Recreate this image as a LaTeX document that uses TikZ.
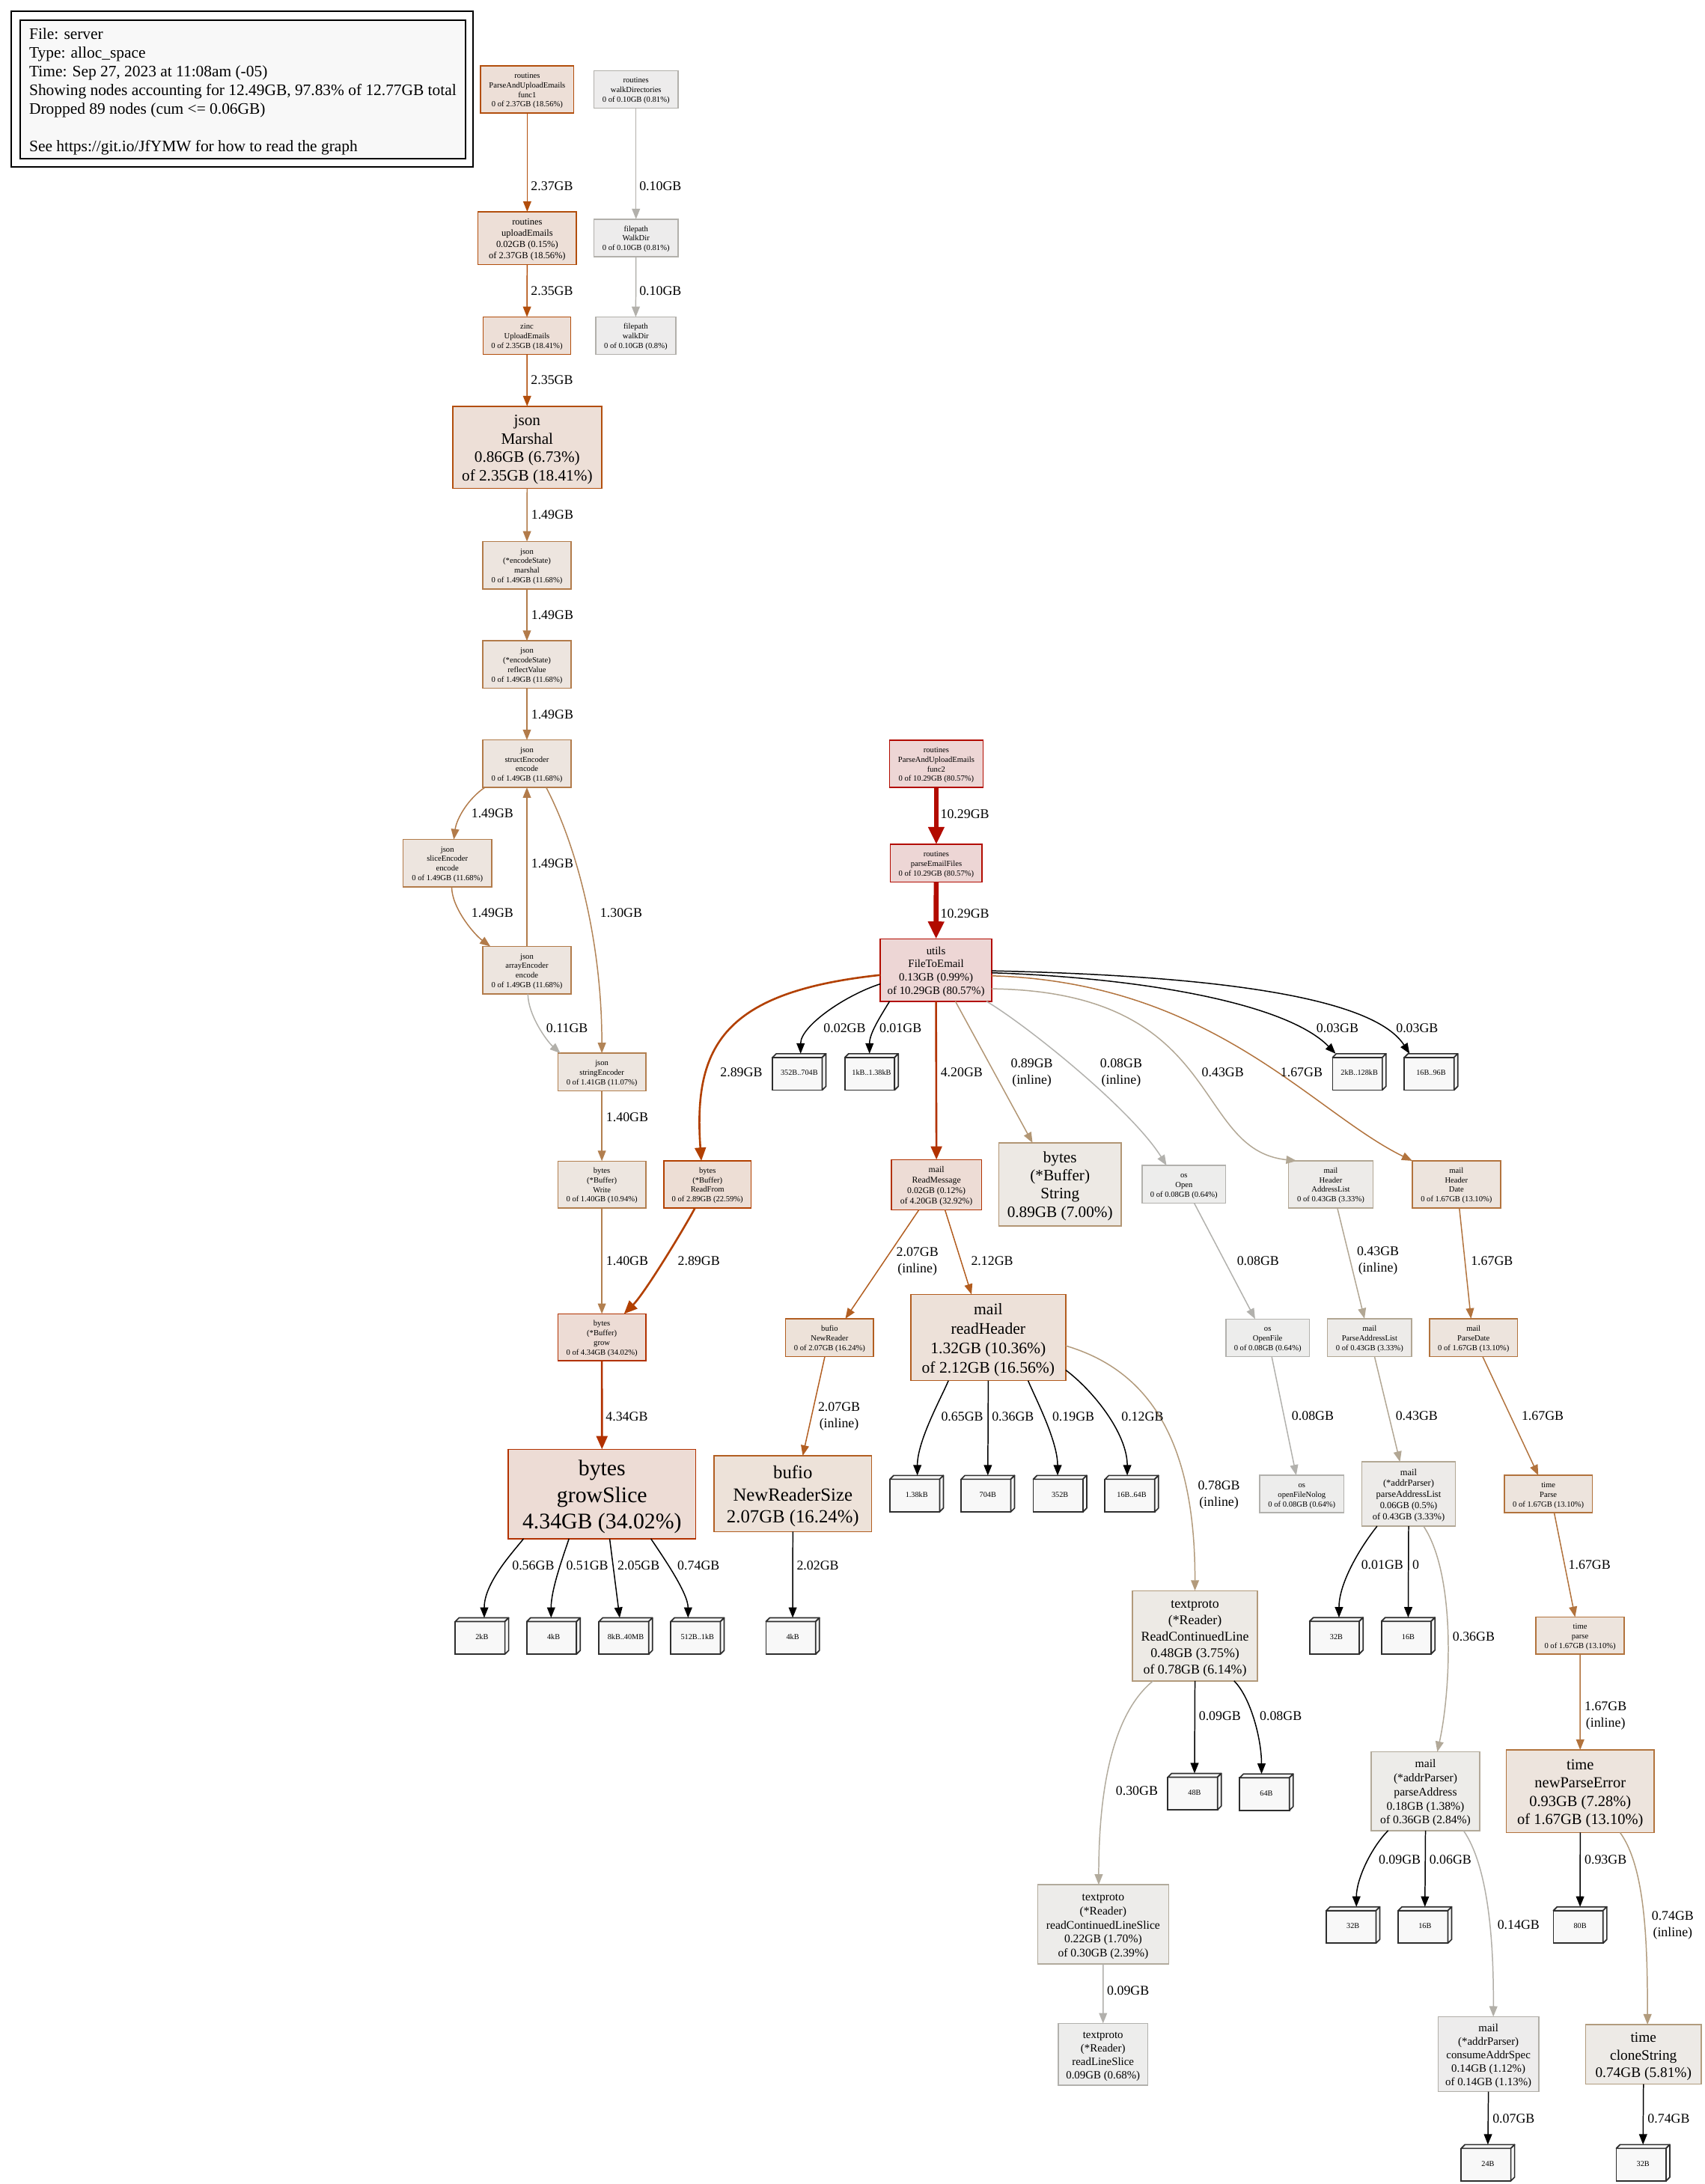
\documentclass[tikz,border=0pt]{standalone}
\usepackage{fontspec}
\setmainfont{Liberation Serif}
\usetikzlibrary{arrows.meta}

% node palette: outline (fg) and fill (bg), graded by cumulative share
\definecolor{c80fg}{HTML}{B20B00}\definecolor{c80bg}{HTML}{EDD6D5}
\definecolor{c34fg}{HTML}{B23100}\definecolor{c34bg}{HTML}{EDDCD5}
\definecolor{c33fg}{HTML}{B23200}\definecolor{c33bg}{HTML}{EDDCD5}
\definecolor{c22fg}{HTML}{B24000}\definecolor{c22bg}{HTML}{EDDED5}
\definecolor{c18fg}{HTML}{B24E0C}\definecolor{c18bg}{HTML}{EDDFD7}
\definecolor{c16fg}{HTML}{B25E21}\definecolor{c16bg}{HTML}{EDE2D9}
\definecolor{c16hfg}{HTML}{B25C1E}\definecolor{c16hbg}{HTML}{EDE1D9}
\definecolor{c13fg}{HTML}{B2733D}\definecolor{c13bg}{HTML}{EDE4DD}
\definecolor{c11fg}{HTML}{B27B4A}\definecolor{c11bg}{HTML}{EDE5DF}
\definecolor{c110fg}{HTML}{B27F4F}\definecolor{c110bg}{HTML}{EDE6E0}
\definecolor{c07fg}{HTML}{B29674}\definecolor{c07bg}{HTML}{EDE9E4}
\definecolor{c06fg}{HTML}{B29A7B}\definecolor{c06bg}{HTML}{EDEAE5}
\definecolor{c058fg}{HTML}{B29C7E}\definecolor{c058bg}{HTML}{EDEAE6}
\definecolor{c03fg}{HTML}{B2A794}\definecolor{c03bg}{HTML}{EDEBE9}
\definecolor{c028fg}{HTML}{B2A999}\definecolor{c028bg}{HTML}{EDECE9}
\definecolor{c024fg}{HTML}{B2AB9D}\definecolor{c024bg}{HTML}{EDECEA}
\definecolor{c011fg}{HTML}{B2AFA8}\definecolor{c011bg}{HTML}{EDECEC}
\definecolor{c008fg}{HTML}{B2B0AB}\definecolor{c008bg}{HTML}{EDECEC}
\definecolor{c006fg}{HTML}{B2B1AD}\definecolor{c006bg}{HTML}{EDEDEC}
% edge-only shades
\definecolor{e130}{HTML}{B28457}
\definecolor{e011}{HTML}{B2B0AA}
\definecolor{e009}{HTML}{B2B0AC}
% leaf (allocation size) boxes
\definecolor{leaffill}{HTML}{F8F8F8}
\definecolor{leafline}{HTML}{2E2E2E}
\definecolor{legendfill}{HTML}{F8F8F8}

% line strut: full line height above the baseline minus the descent, descent below
\newcommand{\gvs}{\vrule width 0pt height \dimexpr\baselineskip-0.217em\relax depth 0.217em\relax}

\tikzset{
  fn/.style={rectangle, draw, line width=0.8pt, inner sep=0pt, outer sep=0pt, align=center},
  wh/.style 2 args={minimum width=#1pt, minimum height=#2pt},
  fsz/.style 2 args={font=\fontsize{#1}{#2}\selectfont},
  sml/.style={fsz={5.7}{6.9}},
  pal/.style={draw=#1fg, fill=#1bg},
  leaf/.style={rectangle, draw=leafline, fill=leaffill, line width=0.9pt, inner sep=0pt,
    outer sep=0pt, minimum width=35.7pt, minimum height=23.4pt, font=\fontsize{5.5}{6.6}\selectfont},
  leafface/.style={draw=leafline, fill=leaffill, line width=0.9pt, line join=round},
  lbl/.style={font=\fontsize{9.6}{11.7}\selectfont, align=center, inner sep=0pt},
  ed/.style={draw=#1, line width=0.8pt, -{Triangle[length=7.5pt,width=5.8pt]}},
  edm/.style={draw=#1, line width=1.4pt, -{Triangle[length=9.5pt,width=8pt]}},
  edh/.style={draw=#1, line width=3.6pt, -{Triangle[length=12.5pt,width=11pt]}},
}

% box3d leaf: front face node, top and side faces, and a coordinate on the back top edge
\newcommand{\leafnode}[4]{%
  \node[leaf] (#1) at (#2,#3) {\kern2.7pt\raisebox{1.35pt}{#4}};
  \path[leafface] (#1.north west) -- ([xshift=2.7pt,yshift=2.7pt]#1.north west)
    -- ([xshift=2.7pt,yshift=2.7pt]#1.north east) -- (#1.north east) -- cycle;
  \path[leafface] (#1.north east) -- ([xshift=2.7pt,yshift=2.7pt]#1.north east)
    -- ([xshift=2.7pt,yshift=2.7pt]#1.south east) -- (#1.south east) -- cycle;
  \coordinate (#1-t) at ([xshift=1.35pt,yshift=2.7pt]#1.north);
}

\begin{document}
\begin{tikzpicture}[x=1pt, y=-1pt]
\fill[white] (0,0) rectangle (1224,1568);
\useasboundingbox (0,0) rectangle (1224,1568);

% ---------- legend ----------
\node[draw=black, line width=1.1pt, fill=white, minimum width=331.8pt, minimum height=111.9pt,
  inner sep=0pt] (legendbox) at (173.9,64.05) {};
\node[draw=black, line width=1pt, fill=legendfill, minimum width=319.9pt, minimum height=99.7pt,
  inner sep=0pt, align=left, font=\fontsize{11.5}{13.4}\selectfont] (legend) at (174.35,64.15)
  {\gvs File: server\\Type: alloc\_space\\Time: Sep 27, 2023 at 11:08am (-05)\\
   Showing nodes accounting for 12.49GB, 97.83\% of 12.77GB total\\
   Dropped 89 nodes (cum <= 0.06GB)\\[13.4pt]
   See https://git.io/JfYMW for how to read the graph\gvs};

% ---------- upload / json branch ----------
\node[fn, pal=c18, wh={66.9}{33.9}, sml] (f1) at (378.5,64.2) {\gvs routines\\ParseAndUploadEmails\\func1\\0 of 2.37GB (18.56\%)\gvs};
\node[fn, pal=c008, wh={60.5}{26.9}, sml] (wdirs) at (456.6,64.3) {\gvs routines\\walkDirectories\\0 of 0.10GB (0.81\%)\gvs};
\node[fn, pal=c18, wh={70.7}{37.9}, fsz={6.7}{8.06}] (upl) at (378.5,171) {\gvs routines\\uploadEmails\\0.02GB (0.15\%)\\of 2.37GB (18.56\%)\gvs};
\node[fn, pal=c008, wh={60.5}{26.9}, sml] (wdir1) at (456.6,170.8) {\gvs filepath\\WalkDir\\0 of 0.10GB (0.81\%)\gvs};
\node[fn, pal=c18, wh={62.8}{26.8}, sml] (zinc) at (378.3,241) {\gvs zinc\\UploadEmails\\0 of 2.35GB (18.41\%)\gvs};
\node[fn, pal=c008, wh={57.6}{26.8}, sml] (wdir2) at (456.4,241) {\gvs filepath\\walkDir\\0 of 0.10GB (0.8\%)\gvs};
\node[fn, pal=c18, wh={107}{59}, fsz={11.4}{13.2}] (marshal) at (378.5,321.2) {\gvs json\\Marshal\\0.86GB (6.73\%)\\of 2.35GB (18.41\%)\gvs};
\node[fn, pal=c11, wh={63.3}{34}, sml] (encm) at (378.3,405.8) {\gvs json\\(*encodeState)\\marshal\\0 of 1.49GB (11.68\%)\gvs};
\node[fn, pal=c11, wh={63.3}{34}, sml] (encr) at (378.3,477.1) {\gvs json\\(*encodeState)\\reflectValue\\0 of 1.49GB (11.68\%)\gvs};
\node[fn, pal=c11, wh={63.3}{34}, sml] (structe) at (378.3,548.3) {\gvs json\\structEncoder\\encode\\0 of 1.49GB (11.68\%)\gvs};
\node[fn, pal=c11, wh={63.6}{34}, sml] (slicee) at (321.2,619.7) {\gvs json\\sliceEncoder\\encode\\0 of 1.49GB (11.68\%)\gvs};
\node[fn, pal=c11, wh={63.3}{34}, sml] (arraye) at (378.3,696.5) {\gvs json\\arrayEncoder\\encode\\0 of 1.49GB (11.68\%)\gvs};
\node[fn, pal=c110, wh={63.2}{26.9}, sml] (strenc) at (432.1,769.6) {\gvs json\\stringEncoder\\0 of 1.41GB (11.07\%)\gvs};
\node[fn, pal=c110, wh={63.2}{33.6}, sml] (bwrite) at (432.1,850.4) {\gvs bytes\\(*Buffer)\\Write\\0 of 1.40GB (10.94\%)\gvs};
\node[fn, pal=c22, wh={62.8}{33.8}, sml] (breadfrom) at (507.9,850.3) {\gvs bytes\\(*Buffer)\\ReadFrom\\0 of 2.89GB (22.59\%)\gvs};
\node[fn, pal=c34, wh={63.2}{33.6}, sml] (bgrow) at (432.1,960.1) {\gvs bytes\\(*Buffer)\\grow\\0 of 4.34GB (34.02\%)\gvs};
\node[fn, pal=c34, wh={134.7}{64.2}, fsz={16}{19.1}] (growslice) at (432.2,1072.6) {\gvs bytes\\growSlice\\4.34GB (34.02\%)\gvs};

% ---------- email parsing branch ----------
\node[fn, pal=c80, wh={67.2}{33.8}, sml] (func2) at (672.2,548.4) {\gvs routines\\ParseAndUploadEmails\\func2\\0 of 10.29GB (80.57\%)\gvs};
\node[fn, pal=c80, wh={65.8}{27}, sml] (pef) at (672.2,619.7) {\gvs routines\\parseEmailFiles\\0 of 10.29GB (80.57\%)\gvs};
\node[fn, pal=c80, wh={79.9}{44.8}, fsz={8}{9.6}] (f2e) at (672,696.5) {\gvs utils\\FileToEmail\\0.13GB (0.99\%)\\of 10.29GB (80.57\%)\gvs};
\node[fn, pal=c33, wh={64.8}{36}, fsz={6.3}{7.6}] (readmsg) at (672.3,850.5) {\gvs mail\\ReadMessage\\0.02GB (0.12\%)\\of 4.20GB (32.92\%)\gvs};
\node[fn, pal=c07, wh={87.9}{59.6}, fsz={11.4}{13}] (bstring) at (761,850.3) {\gvs bytes\\(*Buffer)\\String\\0.89GB (7.00\%)\gvs};
\node[fn, pal=c006, wh={60}{27.1}, sml] (osopen) at (850,850.3) {\gvs os\\Open\\0 of 0.08GB (0.64\%)\gvs};
\node[fn, pal=c03, wh={60.7}{33.8}, sml] (addrlist) at (955.4,850.3) {\gvs mail\\Header\\AddressList\\0 of 0.43GB (3.33\%)\gvs};
\node[fn, pal=c13, wh={63.4}{33.8}, sml] (hdate) at (1045.6,850.3) {\gvs mail\\Header\\Date\\0 of 1.67GB (13.10\%)\gvs};
\node[fn, pal=c16, wh={63.2}{27.1}, sml] (newreader) at (595.6,960.3) {\gvs bufio\\NewReader\\0 of 2.07GB (16.24\%)\gvs};
\node[fn, pal=c16h, wh={111.3}{61.9}, fsz={11.6}{13.9}] (readheader) at (709.5,960.3) {\gvs mail\\readHeader\\1.32GB (10.36\%)\\of 2.12GB (16.56\%)\gvs};
\node[fn, pal=c006, wh={60.1}{26.9}, sml] (openfile) at (910.1,960.4) {\gvs os\\OpenFile\\0 of 0.08GB (0.64\%)\gvs};
\node[fn, pal=c03, wh={60.4}{27.1}, sml] (parseal) at (983.3,960.3) {\gvs mail\\ParseAddressList\\0 of 0.43GB (3.33\%)\gvs};
\node[fn, pal=c13, wh={63.1}{27.1}, sml] (parsedate) at (1057.9,960.3) {\gvs mail\\ParseDate\\0 of 1.67GB (13.10\%)\gvs};
\node[fn, pal=c16, wh={113.3}{54.5}, fsz={13.3}{15.9}] (nrsize) at (569.2,1072.4) {\gvs bufio\\NewReaderSize\\2.07GB (16.24\%)\gvs};
\node[fn, pal=c006, wh={60.5}{26.8}, sml] (ofnolog) at (934.6,1072.6) {\gvs os\\openFileNolog\\0 of 0.08GB (0.64\%)\gvs};
\node[fn, pal=c03, wh={67}{46.2}, fsz={6.7}{8}] (apal) at (1011.3,1072.6) {\gvs mail\\(*addrParser)\\parseAddressList\\0.06GB (0.5\%)\\of 0.43GB (3.33\%)\gvs};
\node[fn, pal=c13, wh={63.2}{26.8}, sml] (tpub) at (1111.6,1072.6) {\gvs time\\Parse\\0 of 1.67GB (13.10\%)\gvs};
\node[fn, pal=c06, wh={89.8}{64.8}, fsz={9.6}{11.8}] (rcl) at (857.9,1174.4) {\gvs textproto\\(*Reader)\\ReadContinuedLine\\0.48GB (3.75\%)\\of 0.78GB (6.14\%)\gvs};
\node[fn, pal=c13, wh={63.5}{26.5}, sml] (tpriv) at (1134.4,1174.2) {\gvs time\\parse\\0 of 1.67GB (13.10\%)\gvs};
\node[fn, pal=c028, wh={77.8}{56.5}, fsz={8.4}{10.1}] (paddr) at (1023.4,1286) {\gvs mail\\(*addrParser)\\parseAddress\\0.18GB (1.38\%)\\of 0.36GB (2.84\%)\gvs};
\node[fn, pal=c13, wh={106.3}{59.3}, fsz={11}{13.2}] (npe) at (1134.5,1286) {\gvs time\\newParseError\\0.93GB (7.28\%)\\of 1.67GB (13.10\%)\gvs};
\node[fn, pal=c024, wh={94}{56.9}, fsz={8.4}{10.1}] (rcls) at (792,1381.6) {\gvs textproto\\(*Reader)\\readContinuedLineSlice\\0.22GB (1.70\%)\\of 0.30GB (2.39\%)\gvs};
\node[fn, pal=c006, wh={64}{44.4}, fsz={8}{9.6}] (rls) at (791.9,1474.9) {\gvs textproto\\(*Reader)\\readLineSlice\\0.09GB (0.68\%)\gvs};
\node[fn, pal=c011, wh={72.3}{53.9}, fsz={8}{9.6}] (cas) at (1068.6,1474.8) {\gvs mail\\(*addrParser)\\consumeAddrSpec\\0.14GB (1.12\%)\\of 0.14GB (1.13\%)\gvs};
\node[fn, pal=c058, wh={83.2}{42.8}, fsz={10.4}{12.5}] (clone) at (1179.9,1474.9) {\gvs time\\cloneString\\0.74GB (5.81\%)\gvs};

% ---------- allocation size leaves ----------
\leafnode{L1}{572.45}{770.9}{352B..704B}
\leafnode{L2}{624.4}{770.9}{1kB..1.38kB}
\leafnode{L3}{974.55}{770.9}{2kB..128kB}
\leafnode{L4}{1026.05}{770.9}{16B..96B}
\leafnode{L5}{656.75}{1073.7}{1.38kB}
\leafnode{L6}{707.85}{1073.7}{704B}
\leafnode{L7}{759.65}{1073.7}{352B}
\leafnode{L8}{811.15}{1073.7}{16B..64B}
\leafnode{L9}{344.65}{1175.9}{2kB}
\leafnode{L10}{396.05}{1175.9}{4kB}
\leafnode{L11}{447.85}{1175.9}{8kB..40MB}
\leafnode{L12}{499.35}{1175.9}{512B..1kB}
\leafnode{L13}{567.75}{1175.9}{4kB}
\leafnode{L14}{958.05}{1175.7}{32B}
\leafnode{L15}{1009.65}{1175.7}{16B}
\leafnode{L16}{856.25}{1287.6}{48B}
\leafnode{L17}{907.85}{1288}{64B}
\leafnode{L18}{970.05}{1383.4}{32B}
\leafnode{L19}{1021.65}{1383.4}{16B}
\leafnode{L20}{1133.05}{1383.4}{80B}
\leafnode{L21}{1066.85}{1554.1}{24B}
\leafnode{L22}{1178.25}{1554.1}{32B}

% ---------- edges: upload / json branch ----------
\draw[ed=c18fg] (f1) -- (upl);
\draw[ed=c008fg] (wdirs) -- (wdir1);
\draw[ed=c18fg] (upl) -- (zinc);
\draw[ed=c008fg] (wdir1) -- (wdir2);
\draw[ed=c18fg] (zinc) -- (marshal);
\draw[ed=c11fg] (marshal) -- (encm);
\draw[ed=c11fg] (encm) -- (encr);
\draw[ed=c11fg] (encr) -- (structe);
\draw[ed=c11fg] ([xshift=1.5pt]structe.south west) .. controls +(-12,8) and +(2,-15) .. ([xshift=4.6pt]slicee.north);
\draw[ed=c11fg] (arraye) -- (structe);
\draw[ed=c11fg] ([xshift=3.1pt]slicee.south) .. controls +(0,15) and +(-12,-9) .. ([xshift=5.4pt]arraye.north west);
\draw[ed=e130] ([xshift=13.8pt]structe.south) .. controls +(22,42) and +(0,-80) .. (strenc.north);
\draw[ed=e011] ([xshift=0.7pt]arraye.south) .. controls +(0,15) and +(-10,-9) .. ([xshift=1.8pt]strenc.north west);
\draw[ed=c110fg] (strenc) -- (bwrite);
\draw[ed=c110fg] (bwrite) -- (bgrow);
\draw[edm=c22fg] ([xshift=-8.9pt]breadfrom.south) .. controls +(-8,15) and +(15,-15) .. ([xshift=15.9pt]bgrow.north);
\draw[edm=c34fg] (bgrow) -- (growslice);
\draw[ed=black] ([xshift=-56.3pt]growslice.south) .. controls +(-8,10) and +(0,-25) .. ([xshift=1.65pt]L9-t);
\draw[ed=black] ([xshift=-23.7pt]growslice.south) .. controls +(-5,15) and +(0,-20) .. ([xshift=-1.75pt]L10-t);
\draw[ed=black] ([xshift=5.5pt]growslice.south) -- ([xshift=-4.3pt]L11-t);
\draw[ed=black] ([xshift=35.1pt]growslice.south) .. controls +(8,12) and +(0,-18) .. ([xshift=-6.7pt]L12-t);
\draw[ed=black] (nrsize.south) -- (L13-t);

% ---------- edges: email parsing branch ----------
\draw[edh=c80fg] (func2) -- (pef);
\draw[edh=c80fg] (pef) -- (f2e);
\draw[edm=c22fg] ([yshift=-3.5pt]f2e.west) .. controls +(-112,12) and +(-6,-83) .. ([xshift=-4.4pt]breadfrom.north);
\draw[ed=black] ([yshift=-9.9pt]f2e.west) .. controls +(-25,8) and +(0,-20) .. ([xshift=1pt]L1-t);
\draw[ed=black] ([xshift=6.6pt]f2e.south west) .. controls +(-6,10) and +(0,-15) .. ([xshift=-1.5pt]L2-t);
\draw[edm=c33fg] (f2e.south) -- (readmsg.north);
\draw[ed=c07fg] ([xshift=13.9pt]f2e.south) -- ([xshift=-19.7pt]bstring.north);
\draw[ed=c006fg] ([xshift=-3.7pt]f2e.south east) .. controls +(30,18) and +(-25,-40) .. ([xshift=-12.5pt]osopen.north);
\draw[ed=c03fg] ([yshift=-13.4pt]f2e.east) .. controls +(168.1,2.1) and +(-75.9,-7.9) .. ([xshift=-24.5pt]addrlist.north);
\draw[ed=c13fg] ([yshift=-4.1pt]f2e.east) .. controls +(158.1,4.4) and +(-72,-35.2) .. (hdate.north west);
\draw[ed=black] ([yshift=-1.9pt]f2e.east) .. controls +(108.1,3.6) and +(-35.2,-36.2) .. ([xshift=-17pt]L3-t);
\draw[ed=black] ([yshift=-0.5pt]f2e.east) .. controls +(138.1,3) and +(-28.3,-44.2) .. ([xshift=-15.4pt]L4-t);
\draw[ed=c16fg] ([xshift=-12.5pt]readmsg.south) -- ([xshift=11.3pt]newreader.north);
\draw[ed=c16hfg] ([xshift=6.1pt]readmsg.south) -- ([xshift=-12pt]readheader.north);
\draw[ed=c006fg] ([xshift=7.4pt]osopen.south) -- ([xshift=-9pt]openfile.north);
\draw[ed=c03fg] ([xshift=4.7pt]addrlist.south) -- ([xshift=-3.7pt]parseal.north);
\draw[ed=c13fg] ([xshift=2.1pt]hdate.south) -- ([xshift=-1.8pt]parsedate.north);
\draw[ed=c16fg] ([xshift=-3.4pt]newreader.south) -- ([xshift=7.1pt]nrsize.north);
\draw[ed=black] ([xshift=-28.6pt]readheader.south) .. controls +(-5,12) and +(0,-25) .. ([xshift=0.5pt]L5-t);
\draw[ed=black] (readheader.south) -- (L6-t);
\draw[ed=black] ([xshift=28.6pt]readheader.south) .. controls +(5,12) and +(0,-25) .. ([xshift=-1.7pt]L7-t);
\draw[ed=black] ([yshift=7.6pt]readheader.south east) .. controls +(20,15) and +(0,-30) .. ([xshift=-3.2pt]L8-t);
\draw[ed=c06fg] ([yshift=-5.9pt]readheader.east) .. controls +(64,18.8) and +(0.2,-101.4) .. (rcl.north);
\draw[ed=c006fg] ([xshift=2.9pt]openfile.south) -- ([xshift=-4pt]ofnolog.north);
\draw[ed=c03fg] ([xshift=3.5pt]parseal.south) -- ([xshift=-6.2pt]apal.north);
\draw[ed=c13fg] ([xshift=6.5pt]parsedate.south) -- ([xshift=-7.2pt]tpub.north);
\draw[ed=black] ([xshift=-22.6pt]apal.south) .. controls +(-12,15) and +(0,-25) .. ([xshift=1.9pt]L14-t);
\draw[ed=black] (apal.south) -- (L15-t);
\draw[ed=c028fg] ([xshift=10.7pt]apal.south) .. controls +(23,34.3) and +(10.1,-46.2) .. ([xshift=8.5pt]paddr.north);
\draw[ed=c13fg] ([xshift=4.2pt]tpub.south) -- ([xshift=-3.6pt]tpriv.north);
\draw[ed=c13fg] (tpriv) -- (npe);
\draw[ed=black] (rcl.south) -- (L16-t);
\draw[ed=black] ([xshift=28.1pt]rcl.south) .. controls +(12,12) and +(0,-25) .. ([xshift=-3.5pt]L17-t);
\draw[ed=c024fg] ([xshift=-30.1pt]rcl.south) .. controls +(-27.8,22.7) and +(0,-72.6) .. ([xshift=-3.2pt]rcls.north);
\draw[ed=e009] (rcls) -- (rls);
\draw[ed=black] ([xshift=-26.8pt]paddr.south) .. controls +(-12,12) and +(0,-20) .. ([xshift=2.4pt]L18-t);
\draw[ed=black] (paddr.south) -- (L19-t);
\draw[ed=c011fg] ([xshift=27.3pt]paddr.south) .. controls +(17.3,25.1) and +(0.4,-56.7) .. ([xshift=3.5pt]cas.north);
\draw[ed=black] (npe.south) -- (L20-t);
\draw[ed=c058fg] ([xshift=28.6pt]npe.south) .. controls +(18,25) and +(0,-60) .. ([xshift=2.9pt]clone.north);
\draw[ed=black] (cas.south) -- (L21-t);
\draw[ed=black] (clone.south) -- (L22-t);

% ---------- edge labels ----------
\node[lbl] (la1) at (396.3,133.5) {2.37GB};
\node[lbl] (la2) at (474.1,133.5) {0.10GB};
\node[lbl] (la3) at (396.3,209.1) {2.35GB};
\node[lbl] (la4) at (474.1,209.1) {0.10GB};
\node[lbl] (la5) at (396.3,273) {2.35GB};
\node[lbl] (la6) at (396.5,369.3) {1.49GB};
\node[lbl] (la7) at (396.5,441.6) {1.49GB};
\node[lbl] (la8) at (396.5,513.2) {1.49GB};
\node[lbl] (la9) at (353.5,584.1) {1.49GB};
\node[lbl] (la10) at (396.5,620.1) {1.49GB};
\node[lbl] (la11) at (353.5,655.6) {1.49GB};
\node[lbl] (la12) at (446,655.6) {1.30GB};
\node[lbl] (la13) at (407.1,737.9) {0.11GB};
\node[lbl] (la14) at (450.3,802.2) {1.40GB};
\node[lbl] (la15) at (450.3,905.3) {1.40GB};
\node[lbl] (la16) at (501.7,905.3) {2.89GB};
\node[lbl] (la17) at (450,1016.9) {4.34GB};
\node[lbl] (la18) at (382.8,1123.8) {0.56GB};
\node[lbl] (la19) at (421.6,1123.8) {0.51GB};
\node[lbl] (la20) at (458.5,1123.8) {2.05GB};
\node[lbl] (la21) at (501.5,1123.8) {0.74GB};
\node[lbl] (la22) at (587.1,1123.8) {2.02GB};
\node[lbl] (la23) at (692.7,584.5) {10.29GB};
\node[lbl] (la24) at (692.7,655.8) {10.29GB};
\node[lbl] (la25) at (532.2,770) {2.89GB};
\node[lbl] (la26) at (606.4,738.2) {0.02GB};
\node[lbl] (la27) at (646.5,738.2) {0.01GB};
\node[lbl] (la28) at (690.4,770.1) {4.20GB};
\node[lbl] (la29) at (740.8,770.3) {0.89GB\\(inline)};
\node[lbl] (la30) at (804.9,770.3) {0.08GB\\(inline)};
\node[lbl] (la31) at (877.9,770.1) {0.43GB};
\node[lbl] (la32) at (934.4,770.1) {1.67GB};
\node[lbl] (la33) at (960.2,738.2) {0.03GB};
\node[lbl] (la34) at (1017.4,738.2) {0.03GB};
\node[lbl] (la35) at (658.6,905.5) {2.07GB\\(inline)};
\node[lbl] (la36) at (712.3,905.1) {2.12GB};
\node[lbl] (la37) at (903.2,905.1) {0.08GB};
\node[lbl] (la38) at (989.3,905.3) {0.43GB\\(inline)};
\node[lbl] (la39) at (1071.1,905.2) {1.67GB};
\node[lbl] (la40) at (602.4,1016.8) {2.07GB\\(inline)};
\node[lbl] (la41) at (690.8,1016.9) {0.65GB};
\node[lbl] (la42) at (727.2,1016.9) {0.36GB};
\node[lbl] (la43) at (770.6,1016.9) {0.19GB};
\node[lbl] (la44) at (820.2,1016.9) {0.12GB};
\node[lbl] (la45) at (875.1,1073.4) {0.78GB\\(inline)};
\node[lbl] (la46) at (942.5,1016.5) {0.08GB};
\node[lbl] (la47) at (1017.1,1016.5) {0.43GB};
\node[lbl] (la48) at (1107.5,1016.5) {1.67GB};
\node[lbl] (la49) at (992.4,1123.4) {0.01GB};
\node[lbl] (la50) at (1016.4,1123.4) {0};
\node[lbl] (la51) at (1058,1174.9) {0.36GB};
\node[lbl] (la52) at (1141.2,1123.4) {1.67GB};
\node[lbl] (la53) at (1152.7,1232) {1.67GB\\(inline)};
\node[lbl] (la54) at (875.8,1232.1) {0.09GB};
\node[lbl] (la55) at (919.5,1232.1) {0.08GB};
\node[lbl] (la56) at (816.2,1285.9) {0.30GB};
\node[lbl] (la57) at (809.9,1429.2) {0.09GB};
\node[lbl] (la58) at (1004.9,1335) {0.09GB};
\node[lbl] (la59) at (1041.3,1335) {0.06GB};
\node[lbl] (la60) at (1090.2,1382) {0.14GB};
\node[lbl] (la61) at (1152.7,1335) {0.93GB};
\node[lbl] (la62) at (1200.9,1382.5) {0.74GB\\(inline)};
\node[lbl] (la63) at (1086.7,1521) {0.07GB};
\node[lbl] (la64) at (1198,1521) {0.74GB};
\end{tikzpicture}
\end{document}
